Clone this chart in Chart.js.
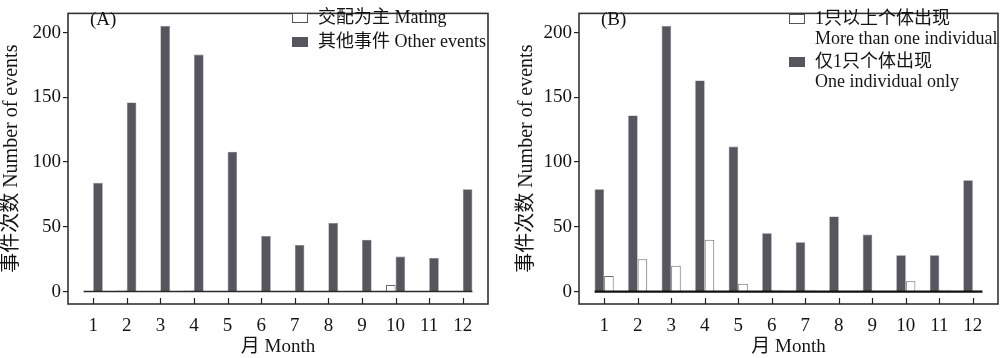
<!DOCTYPE html>
<html><head><meta charset="utf-8">
<script src="https://cdn.jsdelivr.net/npm/chart.js@4.4.1/dist/chart.umd.min.js"></script>
<style>
html,body{margin:0;padding:0;background:#fff;}
#wrap{position:relative;width:1000px;height:358px;}
.p{position:absolute;top:0;width:500px;height:358px;}
</style>
</head><body>
<div id="wrap">
  <div class="p" style="left:0"><canvas id="cA" width="500" height="358"></canvas></div>
  <div class="p" style="left:500px"><canvas id="cB" width="500" height="358"></canvas></div>
</div>
<script>
// ---- data ----
const months = [1,2,3,4,5,6,7,8,9,10,11,12];
const yTicks = [0,50,100,150,200];
const matingA = [0,1,0,1,0,0,0,0,0,5,0,0];
const otherA = [84,146,205,183,108,43,36,53,40,27,26,79];
const oneOnlyB = [79,136,205,163,112,45,38,58,44,28,28,86];
const moreThanOneB = [12,25,20,40,6,1,1,0,0,8,1,1];
const labelsA = ['交配为主 Mating', '其他事件 Other events'];
const labelsB = [['1只以上个体出现','More than one individual'], ['仅1只个体出现','One individual only']];
const yTitle = '事件次数 Number of events';
const xTitle = '月 Month';

const FONT = '"Liberation Serif", "Noto Sans CJK SC", serif';
const TXT = '#141414';
const DARK = '#55565e';

function pts(vals){ return months.map((m,i)=>({x:m, y:vals[i]})); }

function makeChart(id, cfg){
  const plug = {
    id: 'deco'+id,
    afterDatasetsDraw(chart){
      const ctx = chart.ctx, a = chart.chartArea;
      const xs = chart.scales.x, ys = chart.scales.y;
      ctx.save();
      // zero line
      const first = chart.getDatasetMeta(0).data[0];
      const lastMeta = chart.getDatasetMeta(chart.data.datasets.length-1);
      const last = lastMeta.data[lastMeta.data.length-1];
      const y0 = ys.getPixelForValue(0);
      ctx.strokeStyle = cfg.zeroColor; ctx.lineWidth = cfg.zeroWidth;
      ctx.beginPath();
      ctx.moveTo(first.x - first.width/2, y0);
      ctx.lineTo(last.x + last.width/2, y0);
      ctx.stroke();
      // frame
      ctx.strokeStyle = '#333'; ctx.lineWidth = 1.6;
      ctx.strokeRect(a.left, a.top, a.right-a.left, a.bottom-a.top);
      // inward x ticks
      ctx.lineWidth = 1.2; ctx.strokeStyle = '#222';
      months.forEach(m=>{
        const px = Math.round(xs.getPixelForValue(m))+0.5;
        ctx.beginPath(); ctx.moveTo(px, a.bottom); ctx.lineTo(px, a.bottom-6); ctx.stroke();
      });
      // panel label
      ctx.fillStyle = TXT; ctx.textBaseline = 'middle'; ctx.textAlign='left';
      ctx.font = '19px ' + FONT;
      ctx.fillText(cfg.panel, a.left + cfg.panelDx, 20);
      // legend
      ctx.font = '18px ' + FONT;
      cfg.legend.forEach(it=>{
        const bx = a.left + cfg.legendDx;
        ctx.fillStyle = it.fill; ctx.fillRect(bx, it.y-5, 16, 10);
        if (it.stroke){ ctx.strokeStyle = it.stroke; ctx.lineWidth=1; ctx.strokeRect(bx+0.5, it.y-4.5, 15, 9); }
        ctx.fillStyle = TXT;
        const lines = Array.isArray(it.text) ? it.text : [it.text];
        lines.forEach((t,k)=> ctx.fillText(t, bx + 26, it.y + k*20));
      });
      ctx.restore();
    }
  };
  return new Chart(document.getElementById(id), {
    type: 'bar',
    data: { datasets: cfg.datasets },
    options: {
      responsive: false, animation: false, devicePixelRatio: 1,
      layout: { padding: { left: 0, right: cfg.padRight, top: 1, bottom: 0 } },
      plugins: { legend: { display: false }, tooltip: { enabled: false } },
      datasets: { bar: { categoryPercentage: 0.57, barPercentage: 1.0, grouped: true } },
      scales: {
        x: {
          type: 'linear', min: 0.25, max: 12.75, offset: false,
          afterBuildTicks: s => { s.ticks = months.map(v=>({value:v})); },
          afterFit: s => { s.height = 54; },
          grid: { display: false, offset: false }, border: { display: false },
          ticks: { padding: 3, color: TXT, font: { family: FONT, size: 19 }, autoSkip: false, maxRotation: 0 },
          title: { display: true, text: xTitle, color: TXT, font: { family: FONT, size: 19 }, padding: { top: 0, bottom: 0 } }
        },
        y: {
          min: -9.6, max: 214.8,
          afterBuildTicks: s => { s.ticks = yTicks.map(v=>({value:v})); },
          afterFit: s => { s.width = cfg.yWidth; },
          grid: { drawOnChartArea: false, drawTicks: true, tickLength: 5, color: '#222', lineWidth: 1.2 },
          border: { display: false },
          ticks: { padding: 2, color: TXT, font: { family: FONT, size: 19 } },
          title: { display: true, text: yTitle, color: TXT, font: { family: FONT, size: 20 }, padding: { top: cfg.titlePad, bottom: 0 } }
        }
      }
    },
    plugins: [plug]
  });
}

makeChart('cA', {
  datasets: [
    { label: labelsA[0], data: pts(matingA), backgroundColor: '#ffffff', borderColor: '#6a6a6a', borderWidth: 1, borderSkipped: 'bottom' },
    { label: labelsA[1], data: pts(otherA), backgroundColor: DARK, borderColor: '#7a7b82', borderWidth: 0.6, borderSkipped: 'bottom' }
  ],
  yWidth: 68, padRight: 12, titlePad: 0,
  zeroColor: '#2a2a2a', zeroWidth: 1.4,
  panel: '(A)', panelDx: 22, legendDx: 224,
  legend: [
    { text: labelsA[0], fill: '#fff', stroke: '#555', y: 18 },
    { text: labelsA[1], fill: DARK, y: 42 }
  ]
});

makeChart('cB', {
  datasets: [
    { label: labelsB[1][1], data: pts(oneOnlyB), backgroundColor: DARK, borderColor: '#7a7b82', borderWidth: 0.6, borderSkipped: 'bottom' },
    { label: labelsB[0][1], data: pts(moreThanOneB), backgroundColor: '#ffffff', borderColor: '#6a6a6a', borderWidth: 1, borderSkipped: 'bottom' }
  ],
  yWidth: 79, padRight: 2, titlePad: 15,
  zeroColor: '#111', zeroWidth: 2.2,
  panel: '(B)', panelDx: 22, legendDx: 210,
  legend: [
    { text: labelsB[0], fill: '#fff', stroke: '#555', y: 19 },
    { text: labelsB[1], fill: DARK, y: 62 }
  ]
});
</script>
</body></html>
